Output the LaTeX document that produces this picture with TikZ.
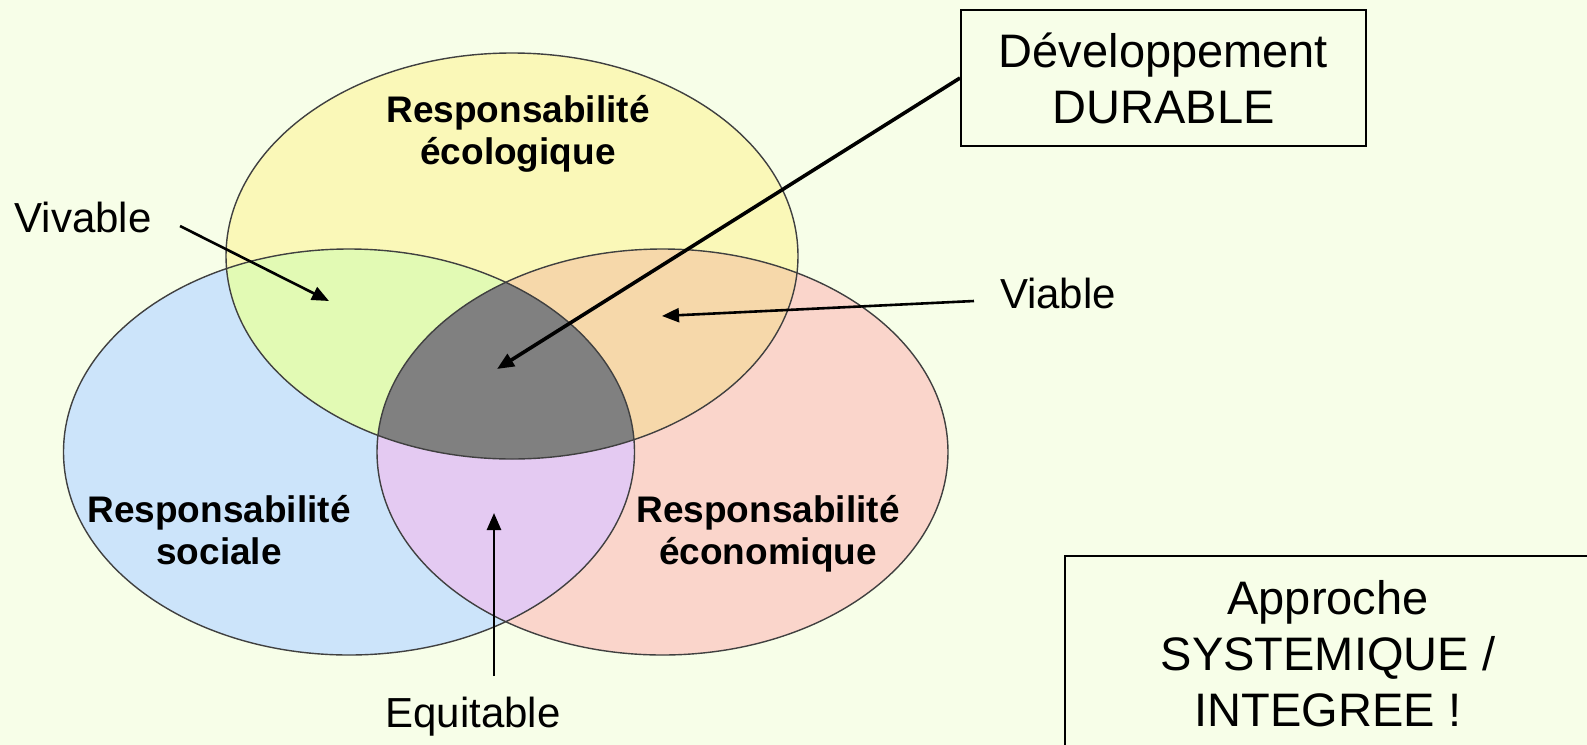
\documentclass[tikz,border=0pt]{standalone}
\usepackage{fontspec}
\setmainfont{Liberation Sans}
\usetikzlibrary{arrows.meta}
\definecolor{bgc}{HTML}{F7FEE8}
\definecolor{ecoC}{HTML}{FAF8B8}
\definecolor{socC}{HTML}{CCE4FA}
\definecolor{econC}{HTML}{FAD5CB}
\definecolor{ecosocC}{HTML}{E2FAB4}
\definecolor{ecoeconC}{HTML}{F6D8AA}
\definecolor{soceconC}{HTML}{E4CAF2}
\definecolor{coreC}{HTML}{808080}
\begin{document}
\begin{tikzpicture}[x=0.5pt,y=-0.5pt,
  outline/.style={draw=black!75, line width=0.7pt},
  biglabel/.style={font=\fontsize{18.5}{21}\selectfont\bfseries, align=center, inner sep=0pt},
  plainlabel/.style={font=\fontsize{21}{24}\selectfont, inner sep=0pt},
  boxlabel/.style={draw=black, line width=1pt, fill=bgc, font=\fontsize{23.5}{28}\selectfont, align=center, inner sep=0pt},
  arr/.style={-{Triangle[length=8.5pt,width=7pt]}, line width=1.3pt}]
\useasboundingbox (0,0) rectangle (1587,745);
\clip (0,0) rectangle (1587,745);
\fill[bgc] (0,0) rectangle (1587,745);
% circles
\fill[ecoC] (512,256) ellipse [x radius=143pt, y radius=101.5pt];
\fill[socC] (349,452) ellipse [x radius=142.75pt, y radius=101.5pt];
\fill[econC] (662.5,452) ellipse [x radius=142.75pt, y radius=101.5pt];
\begin{scope}
  \clip (512,256) ellipse [x radius=143pt, y radius=101.5pt];
  \fill[ecosocC] (349,452) ellipse [x radius=142.75pt, y radius=101.5pt];
  \fill[ecoeconC] (662.5,452) ellipse [x radius=142.75pt, y radius=101.5pt];
\end{scope}
\begin{scope}
  \clip (349,452) ellipse [x radius=142.75pt, y radius=101.5pt];
  \fill[soceconC] (662.5,452) ellipse [x radius=142.75pt, y radius=101.5pt];
  \clip (662.5,452) ellipse [x radius=142.75pt, y radius=101.5pt];
  \fill[coreC] (512,256) ellipse [x radius=143pt, y radius=101.5pt];
\end{scope}
\draw[outline] (512,256) ellipse [x radius=143pt, y radius=101.5pt];
\draw[outline] (349,452) ellipse [x radius=142.75pt, y radius=101.5pt];
\draw[outline] (662.5,452) ellipse [x radius=142.75pt, y radius=101.5pt];
% labels
\node[biglabel] (eco) at (518,134) {Responsabilité\\écologique};
\node[biglabel] (soc) at (219,530) {Responsabilité\\sociale};
\node[biglabel] (econ) at (768,534) {Responsabilité\\économique};
\node[plainlabel, anchor=base] (viv) at (83,232) {Vivable};
\node[plainlabel, anchor=base] (via) at (1058,308) {Viable};
\node[plainlabel, anchor=base] (equ) at (473,727) {Equitable};
\node[boxlabel, minimum width=202.5pt, minimum height=68pt] (dur) at (1163.5,78) {Développement\\DURABLE};
\node[boxlabel, minimum width=263pt, minimum height=97.5pt] (app) at (1328,653.5) {Approche\\SYSTEMIQUE /\\INTEGREE !};
% arrow ends
\coordinate (vivS) at (180,226);
\coordinate (vivT) at (329,301);
\coordinate (durT) at (497,369);
\coordinate (viaS) at (974,301);
\coordinate (viaT) at (662,316);
\coordinate (equS) at (494,676);
\coordinate (equT) at (494,513);
\draw[arr] (vivS) -- (vivT);
\draw[arr, line width=1.8pt] (dur.west) -- (durT);
\draw[arr] (viaS) -- (viaT);
\draw[arr] (equS) -- (equT);
\end{tikzpicture}
\end{document}
